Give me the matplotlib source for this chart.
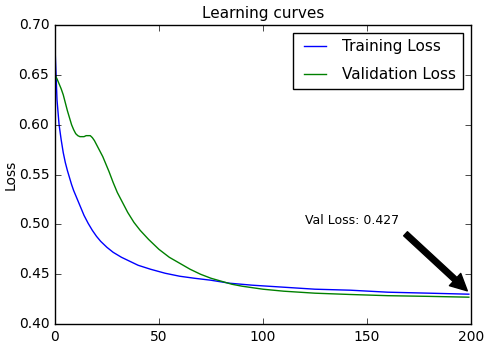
import matplotlib
matplotlib.use('Agg')
import matplotlib.pyplot as plt

# epochs / loss values
train_epochs = [0, 1, 2, 3, 4, 5, 6, 7, 8, 9, 10, 11, 12, 13, 14, 15, 16, 18, 20, 22,
                25, 28, 32, 36, 40, 46, 53, 60, 67, 75, 84, 95, 110, 125, 142, 160, 180, 199]
train_loss = [0.680, 0.625, 0.600, 0.585, 0.572, 0.562, 0.554, 0.547, 0.540, 0.534,
              0.529, 0.524, 0.519, 0.514, 0.509, 0.505, 0.501, 0.494, 0.488, 0.483,
              0.477, 0.472, 0.467, 0.463, 0.459, 0.455, 0.451, 0.448, 0.446, 0.444,
              0.441, 0.439, 0.437, 0.435, 0.434, 0.432, 0.431, 0.430]

val_epochs = [0, 1, 2, 3, 4, 5, 6, 7, 8, 9, 10, 11, 12, 13, 14, 15, 16, 17, 18, 19,
              20, 21, 22, 23, 24, 26, 28, 30, 32, 35, 38, 41, 45, 50, 55, 60, 65, 70,
              75, 80, 85, 90, 100, 110, 125, 142, 160, 180, 199]
val_loss = [0.650, 0.646, 0.641, 0.636, 0.630, 0.622, 0.614, 0.607, 0.600, 0.595,
            0.591, 0.589, 0.588, 0.588, 0.588, 0.589, 0.589, 0.589, 0.587, 0.584,
            0.580, 0.576, 0.572, 0.568, 0.563, 0.553, 0.542, 0.532, 0.524, 0.512,
            0.502, 0.494, 0.485, 0.475, 0.467, 0.461, 0.455, 0.450, 0.446, 0.443,
            0.440, 0.438, 0.435, 0.433, 0.431, 0.4297, 0.4285, 0.4278, 0.427]

plt.style.use('classic')
plt.rcParams['font.size'] = 10

fig = plt.figure(figsize=(4.86, 3.47), dpi=100)
ax = fig.add_axes([0.113, 0.066, 0.856, 0.862])

ax.plot(train_epochs, train_loss, color='b', label='Training Loss')
ax.plot(val_epochs, val_loss, color='g', label='Validation Loss')

ax.annotate('Val Loss: %.3f' % val_loss[-1], xy=(200, 0.43), xytext=(120, 0.50),
            arrowprops=dict(facecolor='black', shrink=0.05), fontsize=9)

ax.set_xlim(0, 200)
ax.set_ylim(0.40, 0.70)
ax.set_xticks([0, 50, 100, 150, 200])
ax.set_ylabel('Loss', fontsize=10, labelpad=1)
ax.set_title('Learning curves', fontsize=11)
ax.tick_params(labelsize=10)
ax.legend(loc='upper right', fontsize=11, labelspacing=0.85, borderpad=0.45)

fig.savefig('out.png', dpi=100)
